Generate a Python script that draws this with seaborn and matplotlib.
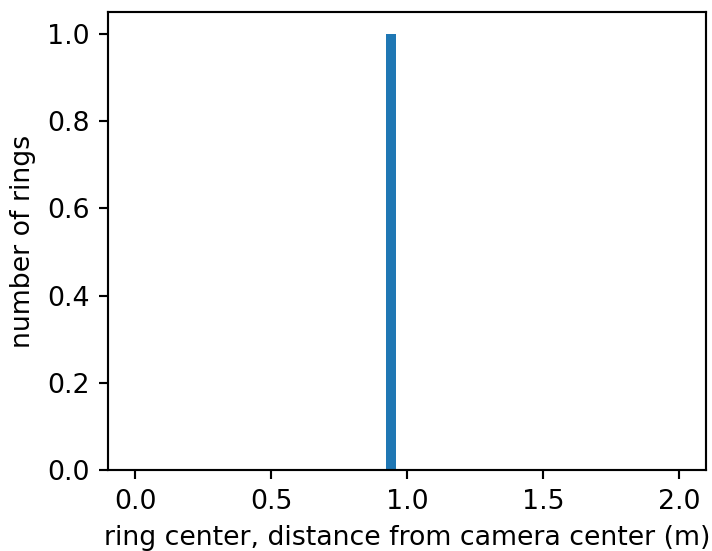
import numpy as np
import pandas as pd
import matplotlib
matplotlib.use('Agg')
import matplotlib.pyplot as plt
import seaborn as sns

# distances of ring centers from camera center (m)
ring_dist = [0.94]
bin_count = 50
bin_range = (0.0, 2.0)

df = pd.DataFrame({"dist": ring_dist})

dpi = 193
fig, ax = plt.subplots(1, 1, figsize=(712 / dpi, 551 / dpi), dpi=dpi)
sns.histplot(data=df, x="dist", bins=bin_count, binrange=bin_range,
             color="#1f77b4", alpha=1.0, edgecolor="none", linewidth=0, ax=ax)
ax.set_xlim(-0.1, 2.1)
ax.set_ylim(0, 1.05)
ax.set_xticks([0.0, 0.5, 1.0, 1.5, 2.0])
ax.set_xlabel("ring center, distance from camera center (m)")
ax.set_ylabel("number of rings")
fig.subplots_adjust(left=0.152, right=0.992, top=0.978, bottom=0.147)
plt.savefig("out.png", dpi=dpi)
plt.close()
